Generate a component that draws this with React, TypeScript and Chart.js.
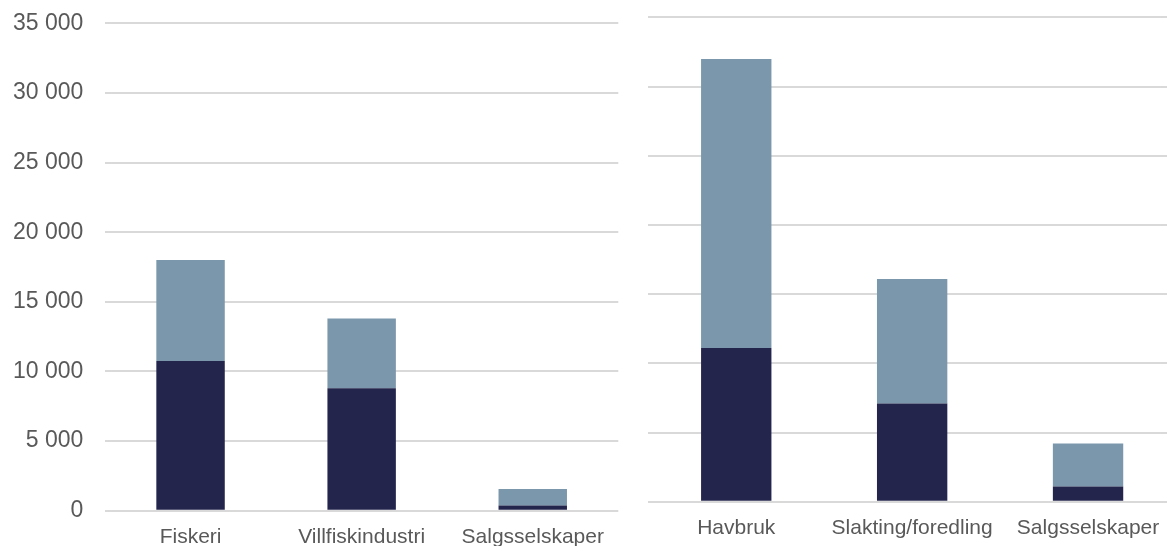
import React, { useEffect, useRef } from "react";
import { Chart, registerables } from "chart.js";

Chart.register(...registerables);

// Left panel: wild fisheries
const leftCategories = ["Fiskeri", "Villfiskindustri", "Salgsselskaper"];
const leftDark = [10750, 8800, 370];
const leftLight = [7250, 5000, 1180];

// Right panel: aquaculture
const rightCategories = ["Havbruk", "Slakting/foredling", "Salgsselskaper"];
const rightDark = [11100, 7100, 1100];
const rightLight = [20900, 9000, 3100];

const yMax = 35000;
const yStep = 5000;

const DARK = "#23254c";
const LIGHT = "#7b97ab";
const GRID = "#d9d9d9";
const TEXT = "#595959";
const FONT = "'Liberation Sans', Arial, sans-serif";

const fmt = (v: number) =>
  String(v).replace(/\B(?=(\d{3})+(?!\d))/g, " ");

type PanelProps = {
  categories: string[];
  dark: number[];
  light: number[];
  showYLabels: boolean;
  yAxisWidth: number;
  padTop: number;
  padRight: number;
  xAxisHeight: number;
  left: number;
  width: number;
};

function Panel(p: PanelProps) {
  const ref = useRef<HTMLCanvasElement | null>(null);

  useEffect(() => {
    if (!ref.current) return;
    const chart = new Chart(ref.current, {
      type: "bar",
      data: {
        labels: p.categories,
        datasets: [
          {
            data: p.dark,
            backgroundColor: DARK,
            borderWidth: 0,
            categoryPercentage: 0.8,
            barPercentage: 0.5,
          },
          {
            data: p.light,
            backgroundColor: LIGHT,
            borderWidth: 0,
            categoryPercentage: 0.8,
            barPercentage: 0.5,
          },
        ],
      },
      options: {
        animation: false,
        responsive: false,
        maintainAspectRatio: false,
        layout: {
          padding: { top: p.padTop, right: p.padRight, left: 0, bottom: 0 },
        },
        plugins: {
          legend: { display: false },
          tooltip: { enabled: false },
        },
        scales: {
          x: {
            stacked: true,
            grid: { display: false, drawTicks: false },
            border: { display: false },
            ticks: {
              color: TEXT,
              font: { family: FONT, size: 21 },
              padding: 13.5,
              maxRotation: 0,
              autoSkip: false,
            },
            afterFit: (s: any) => {
              s.height = p.xAxisHeight;
              s.paddingLeft = 0;
              s.paddingRight = 0;
            },
          },
          y: {
            stacked: true,
            min: 0,
            max: yMax,
            grid: { color: GRID, lineWidth: 2, drawTicks: false },
            border: { display: false },
            ticks: {
              display: p.showYLabels,
              stepSize: yStep,
              color: TEXT,
              font: { family: FONT, size: 23 },
              padding: 21.7,
              callback: (v: any) => fmt(Number(v)),
            },
            afterFit: (s: any) => {
              s.width = p.yAxisWidth;
              s.paddingTop = 0;
              s.paddingBottom = 0;
            },
          },
        },
      },
    });
    return () => chart.destroy();
  }, []);

  return (
    <canvas
      ref={ref}
      width={p.width}
      height={546}
      style={{
        position: "absolute",
        left: p.left,
        top: 0,
        width: p.width,
        height: 546,
      }}
    />
  );
}

export default function App() {
  return (
    <div
      style={{
        position: "fixed",
        left: 0,
        top: 0,
        width: 1167,
        height: 546,
        overflow: "hidden",
        background: "#ffffff",
      }}
    >
      <Panel
        categories={leftCategories}
        dark={leftDark}
        light={leftLight}
        showYLabels={true}
        yAxisWidth={105}
        padTop={23.3}
        padRight={21.7}
        xAxisHeight={546 - 510.7}
        left={0}
        width={640}
      />
      <Panel
        categories={rightCategories}
        dark={rightDark}
        light={rightLight}
        showYLabels={false}
        yAxisWidth={28.3}
        padTop={17.4}
        padRight={0}
        xAxisHeight={546 - 501.7}
        left={620}
        width={556}
      />
    </div>
  );
}
